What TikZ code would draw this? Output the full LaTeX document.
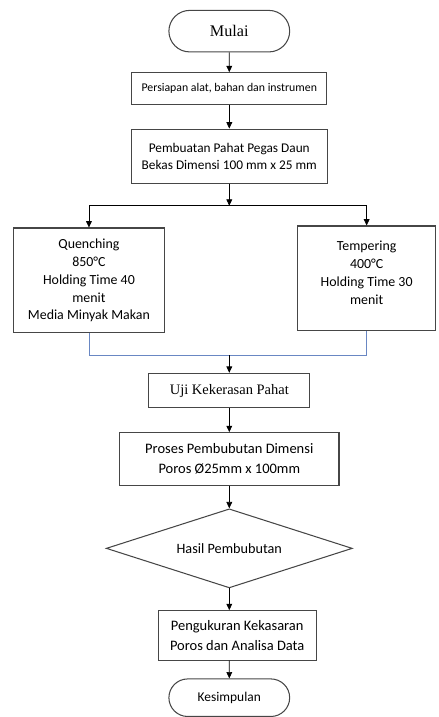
\documentclass[tikz,border=0pt]{standalone}
\usepackage{fontspec}
\setmainfont{Carlito}
\newfontfamily\timesfont{Liberation Serif}
\usepackage{xcolor}
\usetikzlibrary{shapes.geometric, shapes.misc, arrows.meta, positioning, calc}
\definecolor{boxgray}{RGB}{70,70,70}
\definecolor{linkblue}{RGB}{105,135,195}
\tikzset{
	terminal/.style={rounded rectangle, draw=boxgray, line width=0.9pt, minimum width=3.9cm, align=center},
	box/.style={rectangle, draw=boxgray, line width=0.9pt, align=center, font=\fontsize{11.5}{14.5}\selectfont},
	line/.style={draw, line width=0.6pt, -{Triangle[length=5.5pt, width=5pt]}}
}

\begin{document}
\begin{tikzpicture}[
	node distance = 6mm,
	% Styles
	serif/.style = {font=\timesfont\fontsize{12.5}{15}\selectfont},
	treat/.style = {font=\fontsize{12}{15.5}\selectfont},
	decision/.style = {diamond, draw=boxgray, line width=0.9pt, aspect=3.1, inner sep=0pt,
		minimum width=7.47cm, minimum height=2.4cm, font=\fontsize{12.3}{15}\selectfont},
	merge/.style = {draw=linkblue, line width=0.6pt}
	]
	
	% Top: start and preparation
	\node[terminal, minimum height=1.26cm, font=\timesfont\fontsize{14}{16}\selectfont] (mulai) {Mulai};
	\node[box, below=0.6cm of mulai, minimum width=5.91cm, minimum height=0.96cm,
		font=\fontsize{10.2}{14}\selectfont] (persiapan) {Persiapan alat, bahan dan instrumen};
	\node[box, below=0.72cm of persiapan, minimum width=5.94cm, minimum height=1.65cm] (pembuatan)
		{Pembuatan Pahat Pegas Daun\\Bekas Dimensi 100 mm x 25 mm};
	
	% Split into the two heat treatments
	\coordinate[below=0.66cm of pembuatan] (split);
	\node[box, treat, below=0.66cm of split, xshift=-4.26cm, minimum width=4.59cm, minimum height=3.18cm] (quench)
		{Quenching\\850°C\\Holding Time 40\\menit\\Media Minyak Makan};
	\node[box, treat, below=0.6cm of split, xshift=4.17cm, minimum width=4.2cm, minimum height=3.18cm] (temper)
		{Tempering\\400°C\\Holding Time 30\\menit\\[-6pt]\mbox{}};
	
	% Join and the rest of the column
	\coordinate (join) at ($(quench.south -| pembuatan)+(0,-0.66)$);
	\node[box, serif, below=0.54cm of join, minimum width=4.89cm, minimum height=1.05cm] (uji) {Uji Kekerasan Pahat};
	\node[box, below=0.72cm of uji, minimum width=6.66cm, minimum height=1.59cm,
		font=\fontsize{12.5}{16.5}\selectfont] (proses)
		{Proses Pembubutan Dimensi\\Poros Ø25mm x 100mm};
	\node[decision, below=0.69cm of proses] (hasil) {Hasil Pembubutan};
	\node[box, below=0.66cm of hasil, xshift=0.24cm, minimum width=4.8cm, minimum height=1.5cm,
		font=\fontsize{12.5}{17}\selectfont] (pengukuran)
		{Pengukuran Kekasaran\\Poros dan Analisa Data};
	\node[terminal, below=0.54cm of pengukuran, xshift=-0.24cm, minimum height=1.14cm,
		font=\fontsize{11.6}{14}\selectfont] (kesimpulan) {Kesimpulan};
	
	% Paths
	\draw[line] (mulai) -- (persiapan);
	\draw[line] (persiapan) -- (pembuatan);
	\draw[line] (pembuatan) -- (split);
	\draw[line] (split) -| (quench);
	\draw[line] (split) -| (temper);
	
	% Blue merge lines
	\draw[merge] (quench) |- (join) -| (temper);
	
	\draw[line] (join) -- (uji);
	\draw[line] (uji) -- (proses);
	\draw[line] (proses) -- (hasil);
	\draw[line] (hasil) -- (hasil.south |- pengukuran.north);
	\draw[line] (pengukuran.south -| kesimpulan) -- (kesimpulan);
	
	\useasboundingbox ($(mulai.north)+(-6.96,0.3)$) rectangle ($(mulai.north)+(6.36,-21.21)$);
	
\end{tikzpicture}
\end{document}
